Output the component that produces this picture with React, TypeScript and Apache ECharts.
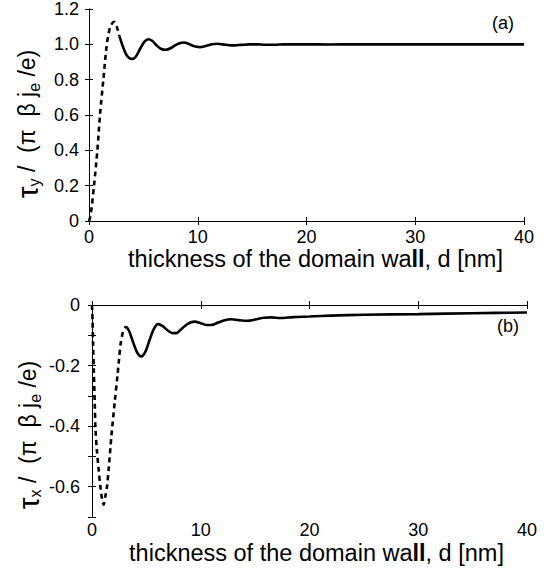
import React, { useEffect, useRef } from "react";
import * as echarts from "echarts";

// Panel (a): tau_y / (pi beta j_e / e) vs d [nm]
const tyDashed: [number, number][] = [
  [0, 0], [0.1, 0.02], [0.25, 0.08], [0.46, 0.2], [0.77, 0.4], [1.01, 0.6],
  [1.32, 0.8], [1.6, 0.98], [1.8, 1.06], [2.0, 1.105], [2.3, 1.128], [2.55, 1.1], [2.8, 1.045],
];
const tySolid: [number, number][] = [
  [2.8, 1.045], [3.1, 0.99], [3.4, 0.945], [3.7, 0.922], [3.95, 0.917], [4.3, 0.93],
  [4.7, 0.975], [5.1, 1.015], [5.45, 1.029], [5.8, 1.02], [6.2, 0.995], [6.6, 0.975],
  [7.08, 0.969], [7.5, 0.978], [8.0, 0.997], [8.4, 1.008], [8.7, 1.01], [9.1, 1.005],
  [9.6, 0.99], [10.2, 0.984], [10.8, 0.992], [11.3, 1.0], [11.75, 1.003], [12.3, 1.0],
  [12.9, 0.995], [13.4, 0.994], [14, 0.997], [14.7, 1.0], [15.5, 1.0], [16.2, 0.998],
  [17, 0.998], [18, 1.0], [20, 1.0], [22, 0.999], [25, 1.0], [30, 1.0], [35, 1.0], [40, 1.0],
];

// Panel (b): tau_x / (pi beta j_e / e) vs d [nm]
const txDashed: [number, number][] = [
  [0, 0], [0.05, -0.05], [0.1, -0.13], [0.17, -0.22], [0.25, -0.32], [0.32, -0.41],
  [0.45, -0.48], [0.6, -0.54], [0.77, -0.6], [0.92, -0.64], [1.07, -0.659], [1.23, -0.631],
  [1.38, -0.6], [1.53, -0.543], [1.78, -0.434], [2.08, -0.324], [2.35, -0.23], [2.48, -0.181],
  [2.64, -0.126], [2.85, -0.088], [3.0, -0.076],
];
const txSolid: [number, number][] = [
  [3.0, -0.076], [3.1, -0.073], [3.4, -0.085], [3.8, -0.125], [4.2, -0.16], [4.53, -0.17],
  [4.9, -0.155], [5.3, -0.115], [5.7, -0.078], [6.07, -0.063], [6.5, -0.07], [7.0, -0.085],
  [7.4, -0.093], [7.76, -0.093], [8.2, -0.08], [8.8, -0.062], [9.44, -0.055], [10.0, -0.06],
  [10.5, -0.066], [10.97, -0.066], [11.6, -0.058], [12.2, -0.05], [12.8, -0.047], [13.5, -0.05],
  [14.3, -0.052], [15, -0.048], [15.8, -0.042], [16.5, -0.041], [17.3, -0.043], [18.5, -0.04],
  [20, -0.038], [22, -0.035], [25, -0.032], [30, -0.03], [35, -0.027], [40, -0.025],
];

const xTitle = "{m|thickness of the domain wa}{b|ll}{m|, d [nm]}";
const yTitleA = "{t|τ}{s|y}{m| /  (π  β j}{s|e}{m| /e)}";
const yTitleB = "{t|τ}{s|x}{m| /  (π  β j}{s|e}{m| /e)}";
const panelLabels = ["(a)", "(b)"];

const FONT = "Liberation Sans, Arial, sans-serif";

export default function App() {
  const ref = useRef<HTMLDivElement>(null);
  useEffect(() => {
    document.body.style.margin = "0";
    document.body.style.overflow = "hidden";
    if (!ref.current) return;
    const chart = echarts.init(ref.current, null, { renderer: "svg" });

    const richX = {
      m: { fontSize: 23.5, fontFamily: FONT, color: "#000", lineHeight: 28 },
      b: { fontSize: 23.5, fontFamily: FONT, color: "#000", fontWeight: "bold", lineHeight: 28 },
    };
    const richY = {
      t: { fontSize: 30, fontFamily: FONT, fill: "#000", lineHeight: 30 },
      m: { fontSize: 23, fontFamily: FONT, fill: "#000", lineHeight: 30 },
      s: { fontSize: 16, fontFamily: FONT, fill: "#000", lineHeight: 16, verticalAlign: "bottom" },
    };
    const axisLine = { show: true, lineStyle: { color: "#000", width: 1 } };
    const axisTick = { show: true, inside: true, length: 4, lineStyle: { color: "#000", width: 1 } };
    const label = { color: "#000", fontSize: 18, fontFamily: FONT };
    const fmt = (v: number) => {
      const k = Math.round(v * 10);
      if (k % 2 !== 0) return "";
      return k === 0 ? "0" : (k / 10).toFixed(1);
    };

    const xAxisBase = (gi: number) => ({
      gridIndex: gi, type: "value", min: 0, max: 40, interval: 10,
      axisLine, axisTick, splitLine: { show: false },
    });

    const option: any = {
      animation: false,
      backgroundColor: "#fff",
      grid: [
        { left: 89, top: 8, right: 34, height: 213 },
        { left: 92, top: 305, right: 31, height: 212 },
      ],
      xAxis: [
        {
          ...xAxisBase(0), position: "bottom",
          axisLabel: { ...label, margin: 7 },
          name: xTitle, nameLocation: "middle", nameGap: 24,
          nameTextStyle: { rich: richX, padding: [0, 0, 0, 18] },
        },
        { ...xAxisBase(0), position: "top", axisLabel: { show: false } },
        {
          ...xAxisBase(1), position: "bottom",
          axisLabel: { ...label, margin: 4 },
          name: xTitle, nameLocation: "middle", nameGap: 22,
          nameTextStyle: { rich: richX, padding: [0, 0, 0, 14] },
        },
        { ...xAxisBase(1), position: "top", axisLabel: { show: false } },
      ],
      yAxis: [
        {
          gridIndex: 0, type: "value", min: 0, max: 1.2, interval: 0.2, position: "left",
          axisLine, axisTick, splitLine: { show: false },
          axisLabel: { ...label, margin: 10, formatter: fmt },
        },
        {
          gridIndex: 0, type: "value", min: 0, max: 1.2, interval: 0.2, position: "right",
          axisLine, axisTick, splitLine: { show: false }, axisLabel: { show: false },
        },
        {
          gridIndex: 1, type: "value", min: -0.7, max: 0, interval: 0.1, position: "left",
          axisLine, axisTick, splitLine: { show: false },
          axisLabel: { ...label, margin: 12, formatter: fmt },
        },
        {
          gridIndex: 1, type: "value", min: -0.7, max: 0, interval: 0.1, position: "right",
          axisLine, axisTick, splitLine: { show: false }, axisLabel: { show: false },
        },
      ],
      graphic: [
        {
          type: "text", x: 27, y: 124, rotation: Math.PI / 2,
          style: { text: yTitleA, rich: richY, align: "center", verticalAlign: "middle", fill: "#000" },
        },
        {
          type: "text", x: 28, y: 435, rotation: Math.PI / 2,
          style: { text: yTitleB, rich: richY, align: "center", verticalAlign: "middle", fill: "#000" },
        },
        { type: "text", left: 492, top: 14, style: { text: panelLabels[0], font: `18px ${FONT}`, fill: "#000" } },
        { type: "text", left: 497, top: 317, style: { text: panelLabels[1], font: `18px ${FONT}`, fill: "#000" } },
      ],
      series: [
        {
          type: "line", xAxisIndex: 0, yAxisIndex: 0, data: tyDashed, showSymbol: false, smooth: 0.3,
          lineStyle: { color: "#000", width: 2.6, type: [5, 4] },
        },
        {
          type: "line", xAxisIndex: 0, yAxisIndex: 0, data: tySolid, showSymbol: false, smooth: 0.3,
          lineStyle: { color: "#000", width: 2.6 },
        },
        {
          type: "line", xAxisIndex: 2, yAxisIndex: 2, data: txDashed, showSymbol: false, smooth: 0.3,
          lineStyle: { color: "#000", width: 2.6, type: [5, 4] },
        },
        {
          type: "line", xAxisIndex: 2, yAxisIndex: 2, data: txSolid, showSymbol: false, smooth: 0.3,
          lineStyle: { color: "#000", width: 2.6 },
        },
      ],
    };
    chart.setOption(option);
    return () => chart.dispose();
  }, []);
  return <div ref={ref} style={{ width: 558, height: 570 }} />;
}
